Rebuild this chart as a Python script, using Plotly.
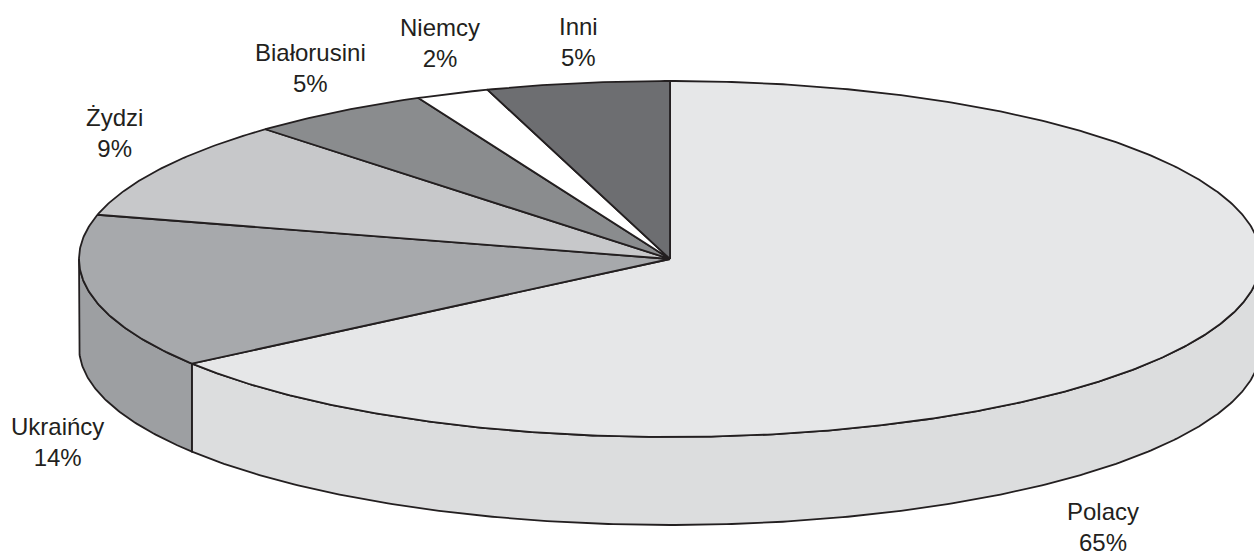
import numpy as np
import plotly.graph_objects as go

categories = ["Polacy", "Ukraińcy", "Żydzi", "Białorusini", "Niemcy", "Inni"]
values = [65, 14, 9, 5, 2, 5]
top_colors = ["#E6E7E8", "#A7A9AC", "#C7C8CA", "#8A8C8E", "#FFFFFF", "#6D6E71"]
side_colors = ["#DCDDDE", "#9D9FA2", "#BCBEC0", "#808285", "#F1F1F2", "#636466"]
label_pos = [(1103, 527), (57, 442), (114, 133), (310, 68), (440, 43), (578, 42)]

CX, CY, RX, RY, DEPTH = 670.0, 259.0, 591.0, 178.0, 88.0
LINE = dict(color="#231F20", width=1.8)


def rim(a0, a1, dy=0.0):
    a = np.radians(np.linspace(a0, a1, max(int(abs(a1 - a0) * 2), 2) + 1))
    return CX + RX * np.sin(a), CY + dy - RY * np.cos(a)


fig = go.Figure()
edges = np.concatenate([[0], np.cumsum(values)]) * 360.0 / sum(values)

# side wall: only the front half (90..270 deg) of the rim is visible
for i in range(len(values)):
    a0, a1 = max(edges[i], 90.0), min(edges[i + 1], 270.0)
    if a1 <= a0:
        continue
    xt, yt = rim(a0, a1)
    xb, yb = rim(a0, a1, DEPTH)
    fig.add_trace(go.Scatter(
        x=np.concatenate([xt, xb[::-1], xt[:1]]),
        y=np.concatenate([yt, yb[::-1], yt[:1]]),
        mode="lines", fill="toself", fillcolor=side_colors[i], line=LINE,
        hoverinfo="skip", showlegend=False))

# top face
for i, name in enumerate(categories):
    x, y = rim(edges[i], edges[i + 1])
    fig.add_trace(go.Scatter(
        x=np.concatenate([[CX], x, [CX]]),
        y=np.concatenate([[CY], y, [CY]]),
        mode="lines", fill="toself", fillcolor=top_colors[i], line=LINE,
        name=name, hoverinfo="name", showlegend=False))

for name, v, (lx, ly) in zip(categories, values, label_pos):
    fig.add_annotation(x=lx, y=ly, text=f"{name}<br>{v}%", showarrow=False,
                       xanchor="center", yanchor="middle", align="center",
                       font=dict(family="Liberation Sans", size=24, color="#231F20"))

fig.update_layout(
    width=1254, height=553, margin=dict(l=0, r=0, t=0, b=0),
    paper_bgcolor="white", plot_bgcolor="white",
    xaxis=dict(range=[0, 1254], visible=False, fixedrange=True),
    yaxis=dict(range=[553, 0], visible=False, fixedrange=True),
)
fig.write_html("out.html", config={"displayModeBar": False},
               post_script="document.body.style.margin='0';document.body.style.overflow='hidden';")
